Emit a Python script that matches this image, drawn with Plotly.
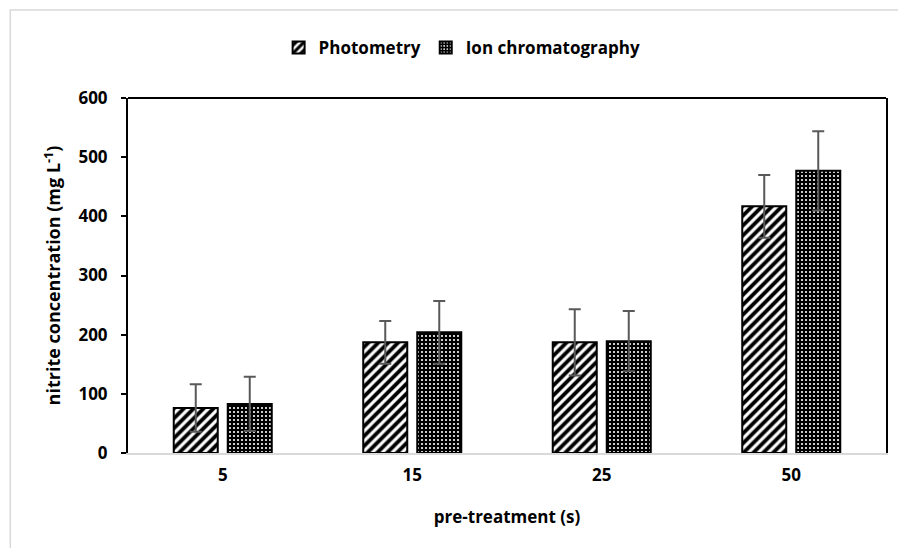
import plotly.graph_objects as go

categories = ["5", "15", "25", "50"]
photometry = [76, 187, 187, 417]
photometry_err = [40, 36, 56, 53]
ion_chrom = [83, 204, 189, 477]
ion_chrom_err = [46, 53, 51, 67]
y_ticks = [0, 100, 200, 300, 400, 500, 600]

FONT = "Open Sans"
OFF = 8  # default page body margin
W, H = 890, 540
ML, MT = 128 - OFF, 98 - OFF
MR = W - (888 - OFF)
MB = H - (453 - OFF)
PW = W - ML - MR
PH = H - MT - MB

def px_x(x):
    return (x - OFF - ML) / PW

def px_y(y):
    return (H - MB - (y - OFF)) / PH

fig = go.Figure()
fig.add_trace(go.Bar(
    name="Photometry", x=categories, y=photometry,
    error_y=dict(type="data", array=photometry_err, color="#595959", thickness=2, width=6),
    marker=dict(color="white", line=dict(color="black", width=2),
                pattern=dict(shape="/", fgcolor="black", bgcolor="white", size=7, solidity=0.55,
                             fgopacity=1, fillmode="replace")),
))
fig.add_trace(go.Bar(
    name="Ion chromatography", x=categories, y=ion_chrom,
    error_y=dict(type="data", array=ion_chrom_err, color="#595959", thickness=2, width=6),
    marker=dict(color="black", line=dict(color="black", width=2),
                pattern=dict(shape=".", fgcolor="white", bgcolor="black", size=4, solidity=0.22,
                             fgopacity=1, fillmode="replace")),
))

fig.update_layout(
    width=W, height=H,
    margin=dict(l=ML, r=MR, t=MT, b=MB, pad=0),
    paper_bgcolor="white", plot_bgcolor="white",
    barmode="group", bargap=0.43, bargroupgap=0.185,
    font=dict(family=FONT, size=17, color="black"),
    showlegend=True,
    legend=dict(orientation="h", x=px_x(463), xanchor="center", y=px_y(48), yanchor="middle",
                font=dict(family=FONT, size=17, color="black", weight="bold"),
                itemwidth=30, tracegroupgap=0, traceorder="normal"),
    xaxis=dict(
        showline=True, linecolor="#d9d9d9", linewidth=2, ticks="",
        showgrid=False, zeroline=False, ticklabelstandoff=6,
        tickfont=dict(family=FONT, size=17, weight="bold"),
        title=dict(text="<b>pre-treatment (s)</b>", font=dict(family=FONT, size=17), standoff=26),
    ),
    yaxis=dict(
        range=[0, 600], tickvals=y_ticks, showgrid=False, zeroline=False,
        showline=True, linecolor="black", linewidth=2, mirror=True,
        ticks="outside", ticklen=5, tickcolor="black", tickwidth=1.5,
        ticklabelstandoff=10,
        tickfont=dict(family=FONT, size=17, weight="bold"),
        title=dict(text="<b>nitrite concentration (mg L<sup>-1</sup>)</b>",
                   font=dict(family=FONT, size=18), standoff=13),
    ),
    shapes=[
        dict(type="line", xref="paper", yref="paper", x0=0, x1=1, y0=1, y1=1,
             line=dict(color="black", width=2)),
        dict(type="rect", xref="paper", yref="paper",
             x0=px_x(10), x1=px_x(W + 60), y0=px_y(H + 60), y1=px_y(10),
             line=dict(color="#d9d9d9", width=1.5), layer="below"),
    ],
)

fig.write_html("out.html")
